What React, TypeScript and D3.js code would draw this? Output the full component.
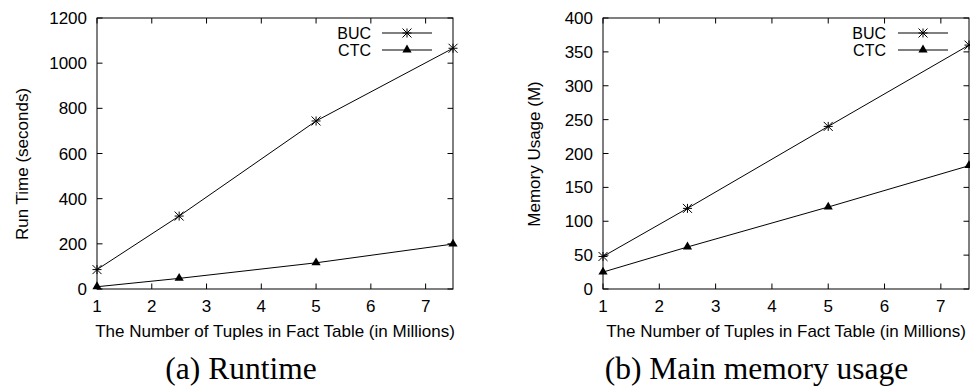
import React from 'react';
import * as d3 from 'd3';

const xValues = [1, 2.5, 5, 7.5];
const xTicks = [1, 2, 3, 4, 5, 6, 7];
const seriesNames = ['BUC', 'CTC'];

const runtimeBUC = [86, 323, 744, 1066];
const runtimeCTC = [10, 47, 116, 199];
const runtimeTicks = [0, 200, 400, 600, 800, 1000, 1200];

const memoryBUC = [48, 119, 240, 360];
const memoryCTC = [25, 62, 121, 182];
const memoryTicks = [0, 50, 100, 150, 200, 250, 300, 350, 400];

const xLabel = 'The Number of Tuples in Fact Table (in Millions)';

const SANS = '"Liberation Sans", Arial, Helvetica, sans-serif';
const SERIF = '"Liberation Serif", "Times New Roman", serif';

type PanelProps = {
  left: number;
  right: number;
  top: number;
  bottom: number;
  yMax: number;
  yTicks: number[];
  buc: number[];
  ctc: number[];
  yLabel: string;
  yLabelX: number;
  yLabelY: number;
  caption: string;
  captionX: number;
  legendTextX: number;
  legendLineX1: number;
  legendLineX2: number;
  legendY: number[];
};

const starPath = (s: number) =>
  `M${-s},0H${s}M0,${-s}V${s}M${-s},${-s}L${s},${s}M${-s},${s}L${s},${-s}`;
const triPath = (h: number, v: number) =>
  `M0,${-1.12 * v}L${-h},${0.5 * v}L${h},${0.5 * v}Z`;

function Marker({ kind, x, y }: { kind: number; x: number; y: number }) {
  if (kind === 0) {
    return <path d={starPath(4.5)} transform={`translate(${x},${y})`} stroke="#000" strokeWidth={1} fill="none" />;
  }
  return <path d={triPath(4.6, 4.8)} transform={`translate(${x},${y})`} fill="#000" stroke="none" />;
}

function Panel(p: PanelProps) {
  const x = d3.scaleLinear().domain([1, 7.5]).range([p.left, p.right]);
  const y = d3.scaleLinear().domain([0, p.yMax]).range([p.bottom, p.top]);
  const line = d3
    .line<number>()
    .x((_, i) => x(xValues[i]))
    .y((d) => y(d));
  const series = [p.buc, p.ctc];
  const tl = 5.5;
  return (
    <g>
      {p.yTicks.map((t) => (
        <g key={'y' + t}>
          <line x1={p.left} x2={p.left + tl} y1={y(t)} y2={y(t)} stroke="#000" />
          <line x1={p.right} x2={p.right - tl} y1={y(t)} y2={y(t)} stroke="#000" />
          <text x={p.left - 10} y={y(t)} dy="0.36em" textAnchor="end" fontFamily={SANS} fontSize={17} fill="#000">
            {t}
          </text>
        </g>
      ))}
      {xTicks.map((t) => (
        <g key={'x' + t}>
          <line x1={x(t)} x2={x(t)} y1={p.bottom} y2={p.bottom - tl} stroke="#000" />
          <line x1={x(t)} x2={x(t)} y1={p.top} y2={p.top + tl} stroke="#000" />
          <text x={x(t)} y={p.bottom + 23} textAnchor="middle" fontFamily={SANS} fontSize={17} fill="#000">
            {t}
          </text>
        </g>
      ))}
      <rect x={p.left} y={p.top} width={p.right - p.left} height={p.bottom - p.top} fill="none" stroke="#000" strokeWidth={1} />
      <text
        transform={`translate(${p.yLabelX},${p.yLabelY}) rotate(-90)`}
        textAnchor="middle"
        fontFamily={SANS}
        fontSize={17}
        fill="#000"
      >
        {p.yLabel}
      </text>
      <text x={(p.left + p.right) / 2} y={p.bottom + 48} textAnchor="middle" fontFamily={SANS} fontSize={17} fill="#000">
        {xLabel}
      </text>
      <text x={p.captionX} y={379} textAnchor="middle" fontFamily={SERIF} fontSize={31.5} fill="#000">
        {p.caption}
      </text>
      {series.map((s, si) => (
        <g key={'s' + si}>
          <path d={line(s) || ''} fill="none" stroke="#000" strokeWidth={1} />
          {s.map((v, i) => (
            <Marker key={i} kind={si} x={x(xValues[i])} y={y(v)} />
          ))}
        </g>
      ))}
      {seriesNames.map((n, si) => (
        <g key={'l' + n}>
          <text x={p.legendTextX} y={p.legendY[si]} dy="0.36em" textAnchor="end" fontFamily={SANS} fontSize={16} fill="#000">
            {n}
          </text>
          <line x1={p.legendLineX1} x2={p.legendLineX2} y1={p.legendY[si]} y2={p.legendY[si]} stroke="#000" />
          <Marker kind={si} x={(p.legendLineX1 + p.legendLineX2) / 2} y={p.legendY[si]} />
        </g>
      ))}
    </g>
  );
}

export default function App() {
  return (
    <svg
      width={970}
      height={387}
      viewBox="0 0 970 387"
      style={{ position: 'fixed', left: 0, top: 0, background: '#fff' }}
    >
      <rect width={970} height={387} fill="#fff" />
      <Panel
        left={97}
        right={453}
        top={18}
        bottom={289}
        yMax={1200}
        yTicks={runtimeTicks}
        buc={runtimeBUC}
        ctc={runtimeCTC}
        yLabel="Run Time (seconds)"
        yLabelX={28}
        yLabelY={164}
        caption="(a) Runtime"
        captionX={241}
        legendTextX={371}
        legendLineX1={382}
        legendLineX2={432}
        legendY={[33, 50]}
      />
      <Panel
        left={603}
        right={969}
        top={18}
        bottom={289}
        yMax={400}
        yTicks={memoryTicks}
        buc={memoryBUC}
        ctc={memoryCTC}
        yLabel="Memory Usage (M)"
        yLabelX={540}
        yLabelY={154}
        caption="(b) Main memory usage"
        captionX={756.5}
        legendTextX={886}
        legendLineX1={898}
        legendLineX2={948}
        legendY={[33, 50]}
      />
    </svg>
  );
}
